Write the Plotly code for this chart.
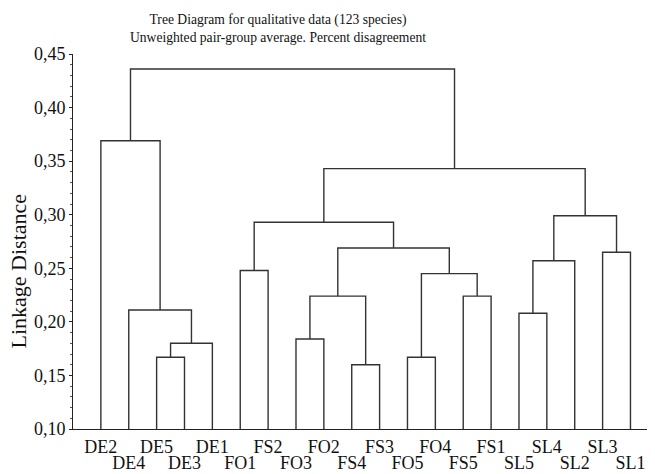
import plotly.graph_objects as go

# ---- data ----
leaves = ["DE2", "DE4", "DE5", "DE3", "DE1", "FO1", "FS2", "FO3", "FO2", "FS4",
          "FS3", "FO5", "FO4", "FS5", "FS1", "SL5", "SL4", "SL2", "SL3", "SL1"]

# merges in order; children are leaf names or "m<k>" for earlier merge k
merge_a = ["FS4", "DE5", "FO5", "m1", "FO3", "SL5", "DE4", "m4", "FS5", "m2",
           "FO1", "m5", "SL3", "m7", "m10", "m11", "m14", "DE2", "m17"]
merge_b = ["FS3", "DE3", "FO4", "DE1", "FO2", "SL4", "m3", "m0", "FS1", "m8",
           "FS2", "SL2", "SL1", "m9", "m13", "m12", "m15", "m6", "m16"]
merge_h = [0.160, 0.167, 0.167, 0.180, 0.184, 0.208, 0.211, 0.224, 0.224, 0.245,
           0.248, 0.257, 0.265, 0.269, 0.293, 0.299, 0.343, 0.369, 0.436]

y_ticks = [0.10, 0.15, 0.20, 0.25, 0.30, 0.35, 0.40, 0.45]
y_min, y_max = 0.10, 0.45

# ---- build dendrogram segments ----
leaf_pos = {name: i + 1 for i, name in enumerate(leaves)}
node = {}


def coords(key):
    if key in leaf_pos:
        return leaf_pos[key], y_min
    return node[key]


xs, ys = [], []
for k, (a, b, h) in enumerate(zip(merge_a, merge_b, merge_h)):
    xa, ya = coords(a)
    xb, yb = coords(b)
    xs += [xa, xa, xb, xb, None]
    ys += [ya, h, h, yb, None]
    node[f"m{k}"] = ((xa + xb) / 2, h)

fig = go.Figure()
fig.add_trace(go.Scatter(x=xs, y=ys, mode="lines",
                         line=dict(color="#333333", width=1.4),
                         hoverinfo="skip", showlegend=False))
# invisible trace to hold the second (staggered) label axis
fig.add_trace(go.Scatter(x=[leaf_pos[n] for n in leaves[1::2]],
                         y=[y_min] * len(leaves[1::2]), xaxis="x2",
                         mode="markers", marker=dict(opacity=0),
                         hoverinfo="skip", showlegend=False))

serif = "Liberation Serif, Times New Roman, serif"
x_range = [0, 20.88]
W, H = 647, 466  # page body adds an 8px margin

fig.update_layout(
    width=W, height=H,
    margin=dict(l=65, r=0, t=46, b=45, autoexpand=False),
    paper_bgcolor="white", plot_bgcolor="white",
    separators=", ",
    font=dict(family=serif, color="#111111"),
    title=dict(
        text="Tree Diagram for qualitative data (123 species)<br>"
             "Unweighted pair-group average. Percent disagreement",
        font=dict(family=serif, size=13.6, color="#111111"),
        xref="container", x=270 / W, xanchor="center",
        yref="container", y=1 - 16 / H, yanchor="top",
        automargin=False,
    ),
    xaxis=dict(
        range=x_range, showgrid=False, zeroline=False, automargin=False,
        showline=True, linecolor="#222222", linewidth=1,
        ticks="outside", ticklen=1, tickcolor="rgba(0,0,0,0)",
        tickmode="array",
        tickvals=[leaf_pos[n] for n in leaves[0::2]],
        ticktext=leaves[0::2],
        tickfont=dict(family=serif, size=18, color="#111111"),
    ),
    xaxis2=dict(
        range=x_range, overlaying="x", anchor="y", side="bottom",
        showgrid=False, zeroline=False, showline=False, automargin=False,
        ticks="outside", ticklen=17, tickcolor="rgba(0,0,0,0)",
        tickmode="array",
        tickvals=[leaf_pos[n] for n in leaves[1::2]],
        ticktext=leaves[1::2],
        tickfont=dict(family=serif, size=18, color="#111111"),
    ),
    yaxis=dict(
        range=[y_min, y_max], showgrid=False, zeroline=False, automargin=False,
        showline=True, linecolor="#222222", linewidth=1,
        ticks="outside", ticklen=3, tickcolor="#222222",
        tickmode="array", tickvals=y_ticks, tickformat=".2f",
        tickfont=dict(family=serif, size=18, color="#111111"),
        minor=dict(ticks="outside", ticklen=2, dtick=0.01,
                   tickcolor="#555555", showgrid=False),
    ),
    annotations=[dict(
        text="Linkage Distance", textangle=-90,
        xref="paper", yref="paper",
        x=(10 - 65) / 582, y=(421 - 263.5) / 375,
        xanchor="center", yanchor="middle", showarrow=False,
        font=dict(family=serif, size=22, color="#111111"),
    )],
)

fig.write_html("out.html")
